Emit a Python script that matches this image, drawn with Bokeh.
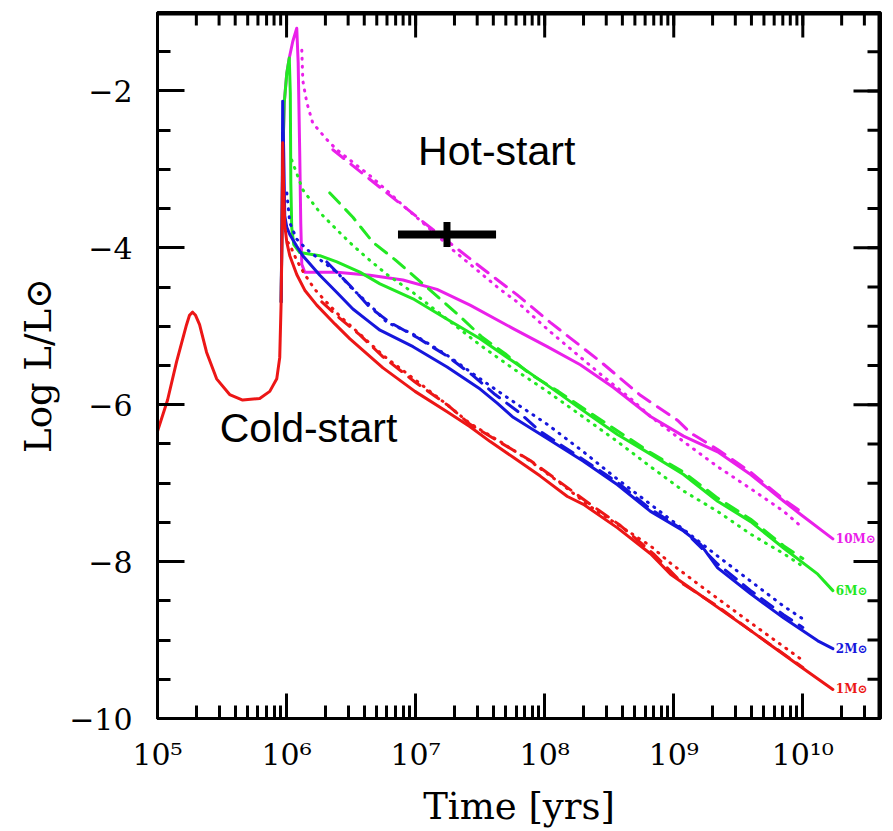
from bokeh.plotting import figure
from bokeh.models import Range1d, FixedTicker, Label, ColumnDataSource
from bokeh.core.properties import value
from bokeh.embed import file_html
from bokeh.resources import INLINE

# Cooling tracks: log10(age / yr) and log10(L / Lsun).
# solid = cold start, dashed / dotted = two hot-start models.

# ---- 1 Msun (red) ----
m1_cold_logt = [5.000, 5.078, 5.148, 5.225, 5.248, 5.272, 5.295, 5.326, 5.380, 5.458,
                5.559, 5.660, 5.792, 5.870, 5.924, 5.947, 5.958, 5.966, 5.970, 5.978,
                5.986, 6.002, 6.025, 6.079, 6.141, 6.234, 6.374, 6.491, 6.747, 6.995,
                7.244, 7.422, 7.578, 7.756, 7.966, 8.176, 8.300, 8.564, 8.820, 8.975,
                9.208, 9.596, 9.984, 10.233]
m1_cold_logL = [-6.34, -5.94, -5.45, -4.98, -4.86, -4.82, -4.86, -4.98, -5.33, -5.67,
                -5.87, -5.94, -5.92, -5.83, -5.67, -5.40, -4.69, -3.68, -2.66, -3.30,
                -3.71, -3.93, -4.10, -4.34, -4.54, -4.73, -4.97, -5.16, -5.53, -5.83,
                -6.09, -6.28, -6.47, -6.67, -6.91, -7.17, -7.27, -7.57, -7.90, -8.16,
                -8.43, -8.88, -9.34, -9.63]
m1_hotA_logt = [6.273, 6.413, 6.568, 6.747, 6.995, 7.244, 7.422, 7.655, 7.888, 8.121,
                8.354, 8.587, 8.843, 9.076, 9.340, 9.596, 10.000]
m1_hotA_logL = [-4.69, -4.90, -5.11, -5.39, -5.71, -6.00, -6.25, -6.48, -6.71, -6.99,
                -7.27, -7.54, -7.90, -8.29, -8.57, -8.88, -9.35]
m1_hotB_logt = [6.009, 6.025, 6.079, 6.141, 6.219, 6.297, 6.413, 6.568, 6.747, 6.995,
                7.244, 7.422, 7.655, 7.888, 8.121, 8.354, 8.587, 8.820, 8.975, 9.208,
                9.596, 10.000]
m1_hotB_logL = [-3.93, -3.96, -4.16, -4.34, -4.53, -4.67, -4.87, -5.10, -5.37, -5.68,
                -6.00, -6.24, -6.47, -6.72, -7.00, -7.30, -7.55, -7.80, -8.02, -8.31,
                -8.78, -9.26]

# ---- 2 Msun (blue) ----
m2_cold_logt = [5.958, 5.966, 5.970, 5.978, 5.986, 6.002, 6.025, 6.079, 6.126, 6.258,
                6.390, 6.514, 6.646, 6.724, 6.980, 7.244, 7.500, 7.632, 7.756, 8.020,
                8.300, 8.564, 8.820, 9.076, 9.208, 9.340, 9.596, 9.853, 10.116, 10.233]
m2_cold_logL = [-4.69, -3.43, -2.13, -2.79, -3.59, -3.74, -3.83, -3.98, -4.10, -4.35,
                -4.57, -4.78, -4.95, -5.05, -5.26, -5.52, -5.80, -5.98, -6.16, -6.43,
                -6.72, -7.02, -7.36, -7.61, -7.78, -8.08, -8.41, -8.72, -9.01, -9.11]
m2_hotA_logt = [6.312, 6.491, 6.646, 6.801, 7.019, 7.244, 7.438, 7.616, 7.795, 7.966,
                8.300, 8.564, 8.820, 9.076, 9.340, 9.596, 9.853, 10.000]
m2_hotA_logL = [-4.18, -4.48, -4.76, -4.95, -5.15, -5.38, -5.62, -5.87, -6.09, -6.34,
                -6.70, -6.99, -7.33, -7.60, -8.03, -8.37, -8.68, -8.84]
m2_hotB_logt = [6.002, 6.025, 6.079, 6.157, 6.258, 6.390, 6.514, 6.646, 6.778, 6.980,
                7.244, 7.500, 7.756, 8.020, 8.300, 8.564, 8.820, 9.076, 9.340, 9.596,
                9.853, 10.000]
m2_hotB_logL = [-3.30, -3.68, -3.89, -4.02, -4.15, -4.31, -4.53, -4.73, -4.95, -5.10,
                -5.37, -5.67, -5.96, -6.25, -6.60, -6.95, -7.27, -7.59, -7.93, -8.25,
                -8.57, -8.73]

# ---- 6 Msun (green) ----
m6_cold_logt = [5.958, 5.970, 5.982, 6.002, 6.021, 6.029, 6.033, 6.040, 6.056, 6.102,
                6.258, 6.390, 6.568, 6.724, 6.980, 7.244, 7.500, 7.756, 8.020, 8.276,
                8.564, 8.820, 9.076, 9.340, 9.596, 9.853, 10.116, 10.233]
m6_cold_logL = [-4.69, -2.91, -2.15, -1.77, -1.58, -2.03, -3.17, -3.74, -3.96, -4.06,
                -4.10, -4.18, -4.31, -4.46, -4.65, -4.91, -5.16, -5.45, -5.75, -6.05,
                -6.38, -6.63, -6.89, -7.23, -7.49, -7.83, -8.16, -8.37]
m6_hotA_logt = [6.335, 6.514, 6.669, 6.840, 7.057, 7.321, 7.516, 7.694, 7.888, 8.106,
                8.339, 8.533, 8.820, 9.076, 9.340, 9.596, 9.853, 10.000]
m6_hotA_logL = [-3.30, -3.61, -3.93, -4.15, -4.46, -4.84, -5.14, -5.35, -5.61, -5.83,
                -6.09, -6.30, -6.61, -6.86, -7.19, -7.46, -7.80, -7.96]
m6_hotB_logt = [6.040, 6.126, 6.258, 6.390, 6.514, 6.646, 6.778, 6.980, 7.244, 7.500,
                7.756, 8.020, 8.276, 8.564, 8.820, 9.076, 9.340, 9.596, 9.853, 10.000]
m6_hotB_logL = [-2.88, -3.26, -3.55, -3.77, -3.97, -4.16, -4.34, -4.57, -4.91, -5.24,
                -5.54, -5.83, -6.13, -6.47, -6.79, -7.10, -7.36, -7.65, -7.90, -8.06]

# ---- 10 Msun (magenta) ----
m10_cold_logt = [5.958, 5.970, 5.982, 6.002, 6.021, 6.048, 6.079, 6.090, 6.102, 6.110,
                 6.118, 6.141, 6.390, 6.646, 6.902, 7.166, 7.422, 7.756, 8.020, 8.276,
                 8.533, 8.820, 9.076, 9.340, 9.596, 9.853, 9.984, 10.233]
m10_cold_logL = [-4.69, -2.91, -2.15, -1.77, -1.58, -1.37, -1.20, -1.64, -2.79, -3.68,
                 -4.21, -4.31, -4.31, -4.35, -4.41, -4.53, -4.73, -5.03, -5.26, -5.49,
                 -5.78, -6.15, -6.40, -6.60, -6.89, -7.23, -7.40, -7.71]
m10_hotA_logt = [6.359, 6.747, 7.135, 7.523, 7.787, 8.043, 8.432, 8.742, 9.030, 9.130,
                 9.340, 9.596, 9.853, 10.000]
m10_hotA_logL = [-2.75, -3.26, -3.77, -4.27, -4.60, -4.95, -5.45, -5.88, -6.20, -6.36,
                 -6.57, -6.86, -7.21, -7.38]
m10_hotB_logt = [6.118, 6.126, 6.157, 6.203, 6.312, 6.390, 6.514, 6.646, 6.778, 6.902,
                 7.034, 7.166, 7.290, 7.422, 7.655, 7.787, 8.043, 8.432, 8.665, 8.820,
                 9.076, 9.340, 9.596, 9.853, 10.000]
m10_hotB_logL = [-1.48, -1.87, -2.15, -2.41, -2.62, -2.75, -2.91, -3.08, -3.27, -3.46,
                 -3.65, -3.84, -4.03, -4.21, -4.53, -4.69, -5.07, -5.61, -5.92, -6.15,
                 -6.47, -6.79, -7.07, -7.36, -7.57]

# observed object: age range and luminosity
obj_age = 1.75e7
obj_age_lo = 7.3e6
obj_age_hi = 4.2e7
obj_logL = -3.83
obj_logL_err = 0.16

mass_labels = ["10M\u2299", "6M\u2299", "2M\u2299", "1M\u2299"]

x_major = [1e5, 1e6, 1e7, 1e8, 1e9, 1e10]
x_labels = ["10\u2075", "10\u2076", "10\u2077", "10\u2078", "10\u2079", "10\u00b9\u2070"]
x_minor = [m * 10.0 ** e for e in range(5, 11) for m in range(1, 10)]
y_major = [-10, -8, -6, -4, -2]
y_labels = ["\u221210", "\u22128", "\u22126", "\u22124", "\u22122"]
y_minor = [-10 + 0.5 * i for i in range(19)]

X_LEFT, X_RIGHT = 1e5, 4e10
Y_BOTTOM, Y_TOP = -10, -1

RED, BLUE, GREEN, MAGENTA = "#ec1616", "#1616dc", "#22e822", "#ea20ea"
SERIF = "DejaVu Serif"

W, H = 893, 831
BORDER_L, BORDER_R, BORDER_T, BORDER_B = 157, 13, 12, 113

p = figure(width=W, height=H, x_axis_type="log",
           x_range=Range1d(X_LEFT, X_RIGHT), y_range=Range1d(Y_BOTTOM, Y_TOP),
           output_backend="svg", toolbar_location=None,
           min_border_left=BORDER_L, min_border_right=BORDER_R,
           min_border_top=BORDER_T, min_border_bottom=BORDER_B)
p.background_fill_color = "white"
p.border_fill_color = "white"
p.outline_line_color = "black"
p.outline_line_width = 3
p.xgrid.visible = False
p.ygrid.visible = False

MAJOR_X_LEN, MAJOR_Y_LEN, MINOR_LEN = 25, 27, 13


def style_axis(ax, major_len):
    ax.axis_line_width = 3
    ax.axis_line_color = "black"
    ax.major_tick_line_width = 3
    ax.minor_tick_line_width = 3
    ax.major_tick_line_color = "black"
    ax.minor_tick_line_color = "black"
    ax.major_tick_in = major_len
    ax.major_tick_out = 0
    ax.minor_tick_in = MINOR_LEN
    ax.minor_tick_out = 0
    ax.major_label_text_font = SERIF
    ax.major_label_text_font_size = "30px"
    ax.major_label_text_color = "black"
    ax.axis_label_text_font = SERIF
    ax.axis_label_text_font_size = "37px"
    ax.axis_label_text_font_style = "normal"
    ax.axis_label_text_color = "black"


xa = p.xaxis[0]
xa.ticker = FixedTicker(ticks=x_major, minor_ticks=x_minor)
xa.major_label_overrides = dict(zip(x_major, x_labels))
xa.axis_label = "Time [yrs]"
xa.major_label_standoff = 18
xa.axis_label_standoff = 10
style_axis(xa, MAJOR_X_LEN)

ya = p.yaxis[0]
ya.ticker = FixedTicker(ticks=y_major, minor_ticks=y_minor)
ya.major_label_overrides = dict(zip(y_major, y_labels))
ya.axis_label = "Log L/L\u2299"
ya.major_label_standoff = 25
ya.axis_label_standoff = 6
style_axis(ya, MAJOR_Y_LEN)


def track(logt, logL, color, dash):
    src = ColumnDataSource(dict(age=[10.0 ** t for t in logt], lum=logL))
    p.line("age", "lum", source=src, line_color=color, line_width=3,
           line_dash=dash, line_cap="round", line_join="round")


DOT = "1 7"
DASH = "14 9"
tracks = [
    (m10_cold_logt, m10_cold_logL, m10_hotA_logt, m10_hotA_logL, m10_hotB_logt, m10_hotB_logL, MAGENTA),
    (m6_cold_logt, m6_cold_logL, m6_hotA_logt, m6_hotA_logL, m6_hotB_logt, m6_hotB_logL, GREEN),
    (m2_cold_logt, m2_cold_logL, m2_hotA_logt, m2_hotA_logL, m2_hotB_logt, m2_hotB_logL, BLUE),
    (m1_cold_logt, m1_cold_logL, m1_hotA_logt, m1_hotA_logL, m1_hotB_logt, m1_hotB_logL, RED),
]
for ct, cl, at, al, bt, bl, col in tracks:
    track(ct, cl, col, "solid")
    track(at, al, col, DASH)
    track(bt, bl, col, DOT)

# mirrored ticks on the top and right edges of the frame, in data units
px_per_unit_y = (H - BORDER_T - BORDER_B) / (Y_TOP - Y_BOTTOM)
px_per_dex_x = (W - BORDER_L - BORDER_R) / (5.0 + 0.60206)   # log10(4e10) - log10(1e5)


def top_ticks(ticks, length_px):
    dy = length_px / px_per_unit_y
    return dict(x0=ticks, x1=ticks, y0=[Y_TOP] * len(ticks), y1=[Y_TOP - dy] * len(ticks))


def right_ticks(ticks, length_px):
    f = 10.0 ** (-length_px / px_per_dex_x)
    return dict(x0=[X_RIGHT] * len(ticks), x1=[X_RIGHT * f] * len(ticks), y0=ticks, y1=ticks)


for data in (top_ticks(x_major, MAJOR_X_LEN), top_ticks(x_minor, MINOR_LEN),
             right_ticks(y_major, MAJOR_Y_LEN), right_ticks(y_minor, MINOR_LEN)):
    p.segment("x0", "y0", "x1", "y1", source=ColumnDataSource(data),
              line_color="black", line_width=3)

# top and right frame edges (half of the width lies inside the frame)
p.segment(x0=[X_LEFT], y0=[Y_TOP], x1=[X_RIGHT], y1=[Y_TOP], line_color="black", line_width=6)
p.segment(x0=[X_RIGHT], y0=[Y_BOTTOM], x1=[X_RIGHT], y1=[Y_TOP], line_color="black", line_width=6)

# mass labels at the end of each cold-start track
lab_src = ColumnDataSource(dict(
    x=[10.0 ** t[0][-1] for t in tracks],
    y=[t[1][-1] for t in tracks],
    text=mass_labels,
    color=[t[6] for t in tracks],
))
p.text("x", "y", text="text", source=lab_src, text_color="color",
       text_font=value(SERIF), text_font_style="bold",
       text_font_size=value("12px"), text_baseline="middle", x_offset=3)

# observed object with its age range
p.segment(x0=[obj_age_lo], y0=[obj_logL], x1=[obj_age_hi], y1=[obj_logL],
          line_color="black", line_width=8)
p.segment(x0=[obj_age], y0=[obj_logL - obj_logL_err], x1=[obj_age],
          y1=[obj_logL + obj_logL_err], line_color="black", line_width=7)

p.add_layout(Label(x=1.045e7, y=-2.77, text="Hot-start", text_font="Liberation Sans",
                   text_font_size="41px", text_baseline="alphabetic", text_color="black"))
p.add_layout(Label(x=3.03e5, y=-6.30, text="Cold-start", text_font="Liberation Sans",
                   text_font_size="41px", text_baseline="alphabetic", text_color="black"))

open("out.html", "w").write(file_html(p, INLINE))
